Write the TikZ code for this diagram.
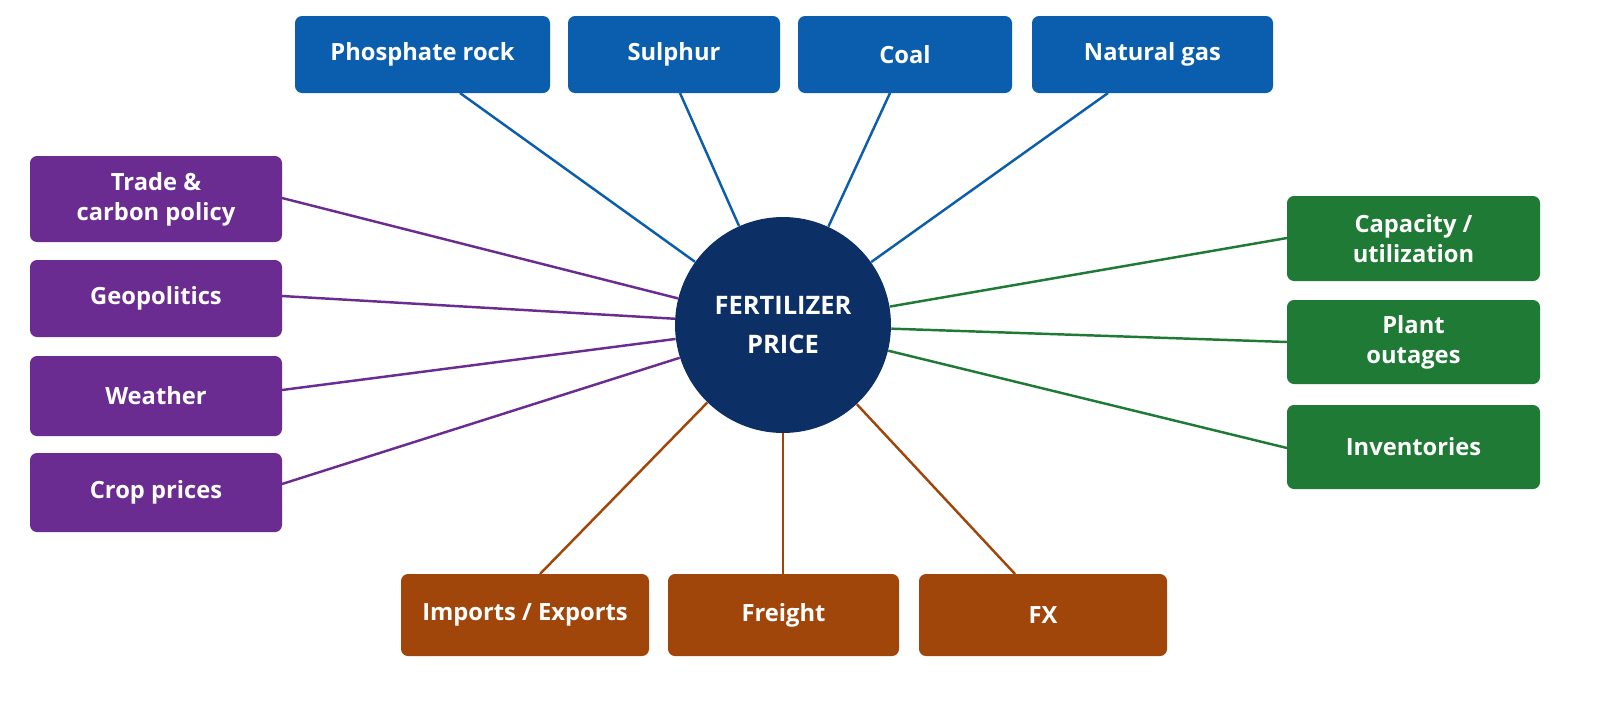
\documentclass[tikz,border=0pt]{standalone}
\usepackage{fontspec}
\setmainfont{Open Sans}
\definecolor{cblue}{HTML}{0B5DAE}
\definecolor{cpurp}{HTML}{6A2C91}
\definecolor{cgreen}{HTML}{1F7A35}
\definecolor{corange}{HTML}{A1460A}
\definecolor{cnavy}{HTML}{0C2F66}
\newcommand\bx[7]{\node[box,fill=#6,minimum width={(#4-#2)*0.02cm},minimum height={(#5-#3)*0.02cm}] (#1) at ({(#2+#4)/2},{(#3+#5)/2}) {#7};}
\begin{document}
\begin{tikzpicture}[x=0.02cm,y=-0.02cm,
 box/.style={rectangle,rounded corners=4pt,inner sep=0pt,text=white,align=center,font=\fontsize{13.5}{17}\selectfont\bfseries},
 ln/.style={line width=1.4pt}]
\useasboundingbox[fill=white] (0,0) rectangle (1600,701);
\bx{pr}{295}{16}{550}{93}{cblue}{Phosphate rock}
\bx{su}{568}{16}{780}{93}{cblue}{Sulphur}
\bx{co}{798}{16}{1012}{93}{cblue}{Coal}
\bx{ng}{1032}{16}{1273}{93}{cblue}{Natural gas}
\bx{tr}{30}{156}{282}{242}{cpurp}{Trade \&\\carbon policy}
\bx{ge}{30}{260}{282}{337}{cpurp}{Geopolitics}
\bx{we}{30}{356}{282}{436}{cpurp}{Weather}
\bx{cr}{30}{453}{282}{532}{cpurp}{Crop prices}
\bx{ca}{1287}{196}{1540}{281}{cgreen}{Capacity /\\utilization}
\bx{pl}{1287}{300}{1540}{384}{cgreen}{Plant\\outages}
\bx{in}{1287}{405}{1540}{489}{cgreen}{Inventories}
\bx{im}{401}{574}{649}{656}{corange}{Imports / Exports}
\bx{fr}{668}{574}{899}{656}{corange}{Freight}
\bx{fx}{919}{574}{1167}{656}{corange}{FX}
\node[circle,fill=cnavy,minimum size=4.32cm,inner sep=0pt,text=white,align=center,font=\fontsize{14.5}{22}\selectfont\bfseries] (c) at (783,325) {FERTILIZER\\PRICE};
\coordinate (a1) at (460,93); \coordinate (a2) at (680,93); \coordinate (a3) at (890,93); \coordinate (a4) at (1108,93);
\coordinate (b1) at (282,198); \coordinate (b2) at (282,296); \coordinate (b3) at (282,390); \coordinate (b4) at (282,484);
\coordinate (g1) at (1287,238); \coordinate (g2) at (1287,342); \coordinate (g3) at (1287,448);
\coordinate (o1) at (540,574); \coordinate (o2) at (783,574); \coordinate (o3) at (1015,574);
\foreach \p in {a1,a2,a3,a4} \draw[ln,cblue] (\p) -- (c);
\foreach \p in {b1,b2,b3,b4} \draw[ln,cpurp] (\p) -- (c);
\foreach \p in {g1,g2,g3} \draw[ln,cgreen] (\p) -- (c);
\foreach \p in {o1,o2,o3} \draw[ln,corange] (\p) -- (c);
\end{tikzpicture}
\end{document}
